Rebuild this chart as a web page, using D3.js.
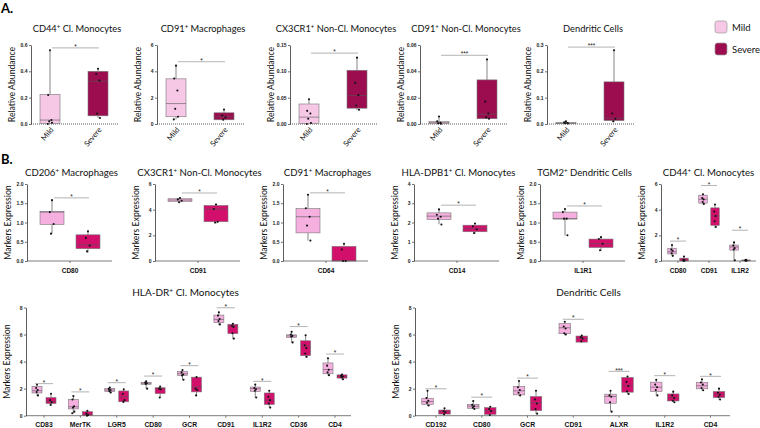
<!DOCTYPE html>
<html><head><meta charset="utf-8">
<script src="https://cdn.jsdelivr.net/npm/d3@7"></script>
<style>body{margin:0;background:#fff}svg{display:block}</style>
</head><body><svg id="c" width="760" height="428"></svg>
<script>
// ---------------- DATA ----------------
const groups = ["Mild", "Severe"];
// Panel A  (box stats = [min, q1, median, q3, max])
const aTitles = ["CD44⁺ Cl. Monocytes", "CD91⁺ Macrophages", "CX3CR1⁺ Non-Cl. Monocytes", "CD91⁺ Non-Cl. Monocytes", "Dendritic Cells"];
const aTicks = [[0, 0.2, 0.4, 0.6], [0, 2, 4, 6], [0, 0.05, 0.10, 0.15], [0, 0.02, 0.04, 0.06], [0, 0.1, 0.2, 0.3]];
const aDecimals = [1, 0, 2, 2, 1];
const aMildBox = [[0, 0.005, 0.03, 0.225, 0.56], [0.35, 0.55, 1.55, 3.43, 4.43], [0, 0.001, 0.013, 0.038, 0.0475], [0, 0.0002, 0.001, 0.0018, 0.0057], [0, 0.001, 0.003, 0.005, 0.01]];
const aSevereBox = [[0.043, 0.062, 0.325, 0.40, 0.42], [0.3, 0.32, 0.55, 0.85, 1.1], [0.026, 0.030, 0.054, 0.102, 0.126], [0.004, 0.004, 0.0075, 0.0335, 0.05], [0.008, 0.013, 0.022, 0.16, 0.283]];
const aMildPts = [[0.56, 0.22, 0.03, 0.02, 0.01, 0.0], [4.43, 3.45, 2.55, 1.15, 0.55, 0.35], [0.047, 0.025, 0.02, 0.01, 0.002, 0.0], [0.0057, 0.002, 0.001, 0.0005, 0.0002], [0.01, 0.006, 0.004, 0.003, 0.002]];
const aSeverePts = [[0.42, 0.38, 0.33, 0.08, 0.045], [1.1, 0.65, 0.5, 0.32], [0.126, 0.078, 0.055, 0.035, 0.027], [0.049, 0.017, 0.008, 0.005, 0.004], [0.28, 0.04, 0.02, 0.01]];
const aSigLevel = [0.578, 4.73, 0.1346, 0.0522, 0.292];
const aStars = ["*", "*", "*", "***", "***"];

// Panel B, row 1
const b1Titles = ["CD206⁺ Macrophages", "CX3CR1⁺ Non-Cl. Monocytes", "CD91⁺ Macrophages", "HLA-DPB1⁺ Cl. Monocytes", "TGM2⁺ Dendritic Cells", "CD44⁺ Cl. Monocytes"];
const b1Markers = [["CD80"], ["CD91"], ["CD64"], ["CD14"], ["IL1R1"], ["CD80", "CD91", "IL1R2"]];
const b1Ticks = [[0, 0.5, 1, 1.5, 2], [0, 2, 4, 6], [0, 0.5, 1, 1.5, 2], [0, 1, 2, 3, 4], [0, 0.5, 1, 1.5, 2], [0, 2, 4, 6]];
const b1Decimals = [1, 0, 1, 0, 1, 0];
const b1MildBox = [[[0.71, 0.95, 1.27, 1.29, 1.58]], [[4.55, 4.65, 4.75, 4.85, 4.9]], [[0.53, 0.73, 1.15, 1.36, 1.72]], [[1.91, 2.16, 2.33, 2.5, 2.67]], [[0.66, 1.09, 1.1, 1.27, 1.35]],
  [[0.37, 0.55, 0.72, 0.97, 1.24], [4.42, 4.51, 4.81, 5.13, 5.2], [0.05, 0.85, 1.09, 1.24, 1.46]]];
const b1SevereBox = [[[0.22, 0.32, 0.42, 0.68, 0.77]], [[2.91, 3.06, 4.05, 4.33, 4.46]], [[0, 0, 0.01, 0.38, 0.45]], [[1.4, 1.52, 1.68, 1.86, 1.96]], [[0.26, 0.35, 0.45, 0.57, 0.62]],
  [[0, 0, 0.08, 0.22, 0.35], [2.58, 2.78, 3.52, 4.14, 4.39], [0, 0.01, 0.04, 0.08, 0.1]]];
const b1MildPts = [[[1.58, 1.27, 0.96, 0.71]], [[4.9, 4.8, 4.7, 4.58]], [[1.72, 1.37, 1.15, 0.92, 0.53]], [[2.68, 2.4, 2.3, 2.2, 1.9]], [[1.35, 1.27, 1.1, 1.1, 0.67]],
  [[1.24, 0.9, 0.8, 0.6, 0.4], [5.2, 4.9, 4.8, 4.6, 4.45], [1.45, 1.2, 1.0, 0.9, 0.05]]];
const b1SeverePts = [[[0.77, 0.6, 0.4, 0.25]], [[4.4, 4.05, 3.05, 3.0]], [[0.45, 0.3, 0.0, 0.0]], [[1.95, 1.8, 1.65, 1.45]], [[0.62, 0.57, 0.45, 0.28]],
  [[0.35, 0.1, 0.05, 0.0], [4.4, 3.85, 3.5, 3.1, 2.65], [0.1, 0.06, 0.03, 0.02]]];
const b1SigLevel = [[1.64], [5.3], [1.77], [2.9], [1.43], [1.55, 5.88, 2.4]];

// Panel B, row 2
const r2Titles = ["HLA-DR⁺ Cl. Monocytes", "Dendritic Cells"];
const r2Ticks = [0, 2, 4, 6, 8];
const hlaMarkers = ["CD83", "MerTK", "LGR5", "CD80", "GCR", "CD91", "IL1R2", "CD36", "CD4"];
const hlaMildBox = [[1.46, 1.68, 1.85, 2.17, 2.31], [0.18, 0.5, 0.66, 1.2, 1.46], [1.7, 1.78, 1.9, 2.02, 2.08], [2.0, 2.32, 2.4, 2.45, 2.55], [2.66, 2.98, 3.1, 3.27, 3.39], [6.71, 6.88, 7.12, 7.44, 7.68], [1.34, 1.8, 2.0, 2.12, 2.32], [5.41, 5.78, 5.9, 5.98, 6.22], [2.98, 3.1, 3.41, 3.9, 4.27]];
const hlaSevereBox = [[0.78, 0.9, 1.05, 1.34, 1.63], [0, 0, 0.1, 0.3, 0.37], [1.0, 1.03, 1.4, 1.83, 1.95], [1.34, 1.63, 2.0, 2.07, 2.17], [1.5, 1.76, 2.12, 2.85, 2.85], [5.66, 6.07, 6.63, 6.76, 6.83], [0.59, 0.83, 1.15, 1.68, 1.88], [4.32, 4.44, 5.17, 5.54, 5.98], [2.66, 2.78, 2.9, 3.02, 3.07]];
const hlaMildPts = [[2.3, 2.05, 1.9, 1.75, 1.5], [1.45, 1.2, 0.7, 0.6, 0.3, 0.18], [2.08, 1.98, 1.9, 1.82, 1.72], [2.55, 2.45, 2.4, 2.35, 2.0], [3.38, 3.2, 3.05, 2.98, 2.66], [7.65, 7.4, 7.15, 7.0, 6.75], [2.3, 2.05, 1.95, 1.85, 1.35], [6.2, 6.0, 5.9, 5.85, 5.42], [4.25, 3.7, 3.4, 3.2, 3.0]];
const hlaSeverePts = [[1.62, 1.15, 1.0, 0.8], [0.36, 0.15, 0.05, 0.0], [1.95, 1.6, 1.15, 1.02], [2.15, 2.0, 1.95, 1.35], [2.85, 2.0, 1.9, 1.5], [6.8, 6.65, 6.55, 6.1, 5.7], [1.85, 1.4, 1.15, 0.9, 0.6], [5.95, 5.2, 5.0, 4.6, 4.35], [3.05, 2.95, 2.9, 2.85, 2.7]];
const hlaSigLevel = [2.37, 1.76, 2.44, 2.93, 3.7, 7.98, 2.54, 6.59, 4.56];
const hlaStars = ["*", "*", "*", "*", "*", "*", "*", "*", "*"];

const dcMarkers = ["CD192", "CD80", "GCR", "CD91", "ALXR", "IL1R2", "CD4"];
const dcMildBox = [[0.72, 0.84, 1.04, 1.29, 1.84], [0.5, 0.55, 0.7, 0.84, 1.09], [1.47, 1.54, 1.84, 2.16, 2.58], [5.94, 6.06, 6.5, 6.81, 6.96], [0.3, 0.92, 1.42, 1.59, 1.86], [1.49, 1.79, 2.11, 2.48, 2.66], [1.86, 1.99, 2.21, 2.46, 2.71]];
const dcSevereBox = [[0.05, 0.12, 0.3, 0.42, 0.55], [0, 0.1, 0.37, 0.6, 0.67], [0.12, 0.37, 0.97, 1.42, 1.86], [5.39, 5.44, 5.71, 5.89, 5.94], [1.59, 1.74, 2.21, 2.83, 2.91], [0.99, 1.09, 1.34, 1.61, 1.79], [1.17, 1.34, 1.59, 1.79, 2.04]];
const dcMildPts = [[1.84, 1.3, 1.1, 0.95, 0.75], [1.08, 0.8, 0.7, 0.6, 0.5], [2.57, 2.1, 1.9, 1.7, 1.5], [6.95, 6.6, 6.45, 6.1, 6.0], [1.85, 1.5, 1.4, 1.0, 0.3], [2.65, 2.3, 2.1, 1.9, 1.5], [2.7, 2.45, 2.3, 2.05, 1.88]];
const dcSeverePts = [[0.55, 0.35, 0.25, 0.1], [0.66, 0.5, 0.35, 0.05], [1.85, 1.2, 0.9, 0.5, 0.15], [5.92, 5.8, 5.7, 5.5], [2.9, 2.5, 2.2, 1.8, 1.6], [1.78, 1.5, 1.3, 1.1, 1.0], [2.0, 1.7, 1.55, 1.4, 1.2]];
const dcSigLevel = [1.99, 1.37, 2.78, 7.13, 3.28, 2.96, 2.91];
const dcStars = ["*", "*", "*", "*", "***", "*", "*"];

// ---------------- STYLE / LAYOUT ----------------
const FONT = "Lato, 'Open Sans', sans-serif";
const TICKF = "'Liberation Sans', Arial, sans-serif";
const colA = { Mild: "#f7c8e6", Severe: "#9c0d4f" };
const colB = { Mild: "#f5b0e0", Severe: "#d2106c" };
const jit = [0, -0.18, 0.14, -0.08, 0.2, -0.22];

const svg = d3.select("#c");

function richText(g, x, y, str, size, anchor) {
  const t = g.append("text").attr("x", x).attr("y", y).attr("text-anchor", anchor || "middle")
    .attr("font-family", FONT).attr("font-size", size).attr("fill", "#111");
  str.split("⁺").forEach((p, i) => {
    if (i > 0) {
      t.append("tspan").attr("dy", -size * 0.35).attr("font-size", size * 0.65).text("+");
      t.append("tspan").attr("dy", size * 0.35).text(p);
    } else t.append("tspan").text(p);
  });
  return t;
}

function yAxis(x, y, ticks, dec, label) {
  const ax = d3.axisLeft(y).tickValues(ticks).tickSize(2).tickSizeOuter(0).tickPadding(1.5)
    .tickFormat(d3.format("." + dec + "f"));
  const a = svg.append("g").attr("transform", `translate(${x},0)`).call(ax);
  a.select(".domain").attr("stroke", "#333").attr("stroke-width", 0.8);
  a.selectAll(".tick line").attr("stroke", "#333").attr("stroke-width", 0.7);
  a.selectAll(".tick text").attr("font-family", TICKF).attr("font-weight", "bold")
    .attr("font-size", 5).attr("fill", "#222");
  const [b, t] = y.range();
  svg.append("text").attr("transform", `translate(${x - 16},${(b + t) / 2}) rotate(-90)`)
    .attr("text-anchor", "middle").attr("font-family", FONT).attr("font-size", 8.7)
    .attr("fill", "#111").text(label);
}

function boxPlot(cx, w, s, y, fill) {
  const [mn, q1, md, q3, mx] = s;
  const g = svg.append("g");
  g.append("line").attr("x1", cx).attr("x2", cx).attr("y1", y(mx)).attr("y2", y(q3)).attr("stroke", "#333").attr("stroke-width", 0.6);
  g.append("line").attr("x1", cx).attr("x2", cx).attr("y1", y(q1)).attr("y2", y(mn)).attr("stroke", "#333").attr("stroke-width", 0.6);
  g.append("rect").attr("x", cx - w / 2).attr("y", y(q3)).attr("width", w).attr("height", Math.max(0.8, y(q1) - y(q3)))
    .attr("fill", fill).attr("stroke", "#777").attr("stroke-width", 0.6);
  g.append("line").attr("x1", cx - w / 2).attr("x2", cx + w / 2).attr("y1", y(md)).attr("y2", y(md)).attr("stroke", "#555").attr("stroke-width", 0.6);
}

function dots(cx, w, pts, y) {
  svg.append("g").selectAll("circle").data(pts).join("circle")
    .attr("cx", (d, i) => cx + jit[i % jit.length] * w * 0.5).attr("cy", d => y(d))
    .attr("r", 1.05).attr("fill", "#111");
}

function sig(x1, x2, yy, star) {
  svg.append("line").attr("x1", x1).attr("x2", x2).attr("y1", yy).attr("y2", yy).attr("stroke", "#aaa").attr("stroke-width", 0.9);
  svg.append("text").attr("x", (x1 + x2) / 2).attr("y", yy + 1.2).attr("text-anchor", "middle")
    .attr("font-family", TICKF).attr("font-size", 6.5).attr("fill", "#222").text(star);
}

// ---------------- PANEL A ----------------
svg.append("text").attr("x", 1).attr("y", 13).attr("font-family", FONT).attr("font-weight", "bold").attr("font-size", 13).text("A.");
const aAxisX = [31, 157, 290, 420, 547];
aTitles.forEach((ttl, i) => {
  const ax = aAxisX[i];
  const y = d3.scaleLinear().domain([0, aTicks[i][aTicks[i].length - 1]]).range([124, 45]);
  const x = d3.scalePoint().domain(groups).range([ax + 19, ax + 67]);
  richText(svg, ax + 46, 32, ttl, 9.3);
  yAxis(ax, y, aTicks[i], aDecimals[i], "Relative Abundance");
  svg.append("line").attr("x1", ax).attr("x2", ax + 87).attr("y1", y(0)).attr("y2", y(0))
    .attr("stroke", "#333").attr("stroke-width", 0.8).attr("stroke-dasharray", "1,1");
  boxPlot(x("Mild"), 20, aMildBox[i], y, colA.Mild);
  boxPlot(x("Severe"), 20, aSevereBox[i], y, colA.Severe);
  dots(x("Mild"), 20, aMildPts[i], y);
  dots(x("Severe"), 20, aSeverePts[i], y);
  sig(x("Mild") + 2, x("Severe") + 1, y(aSigLevel[i]), aStars[i]);
  groups.forEach(gname => {
    svg.append("text").attr("transform", `translate(${x(gname) + 4},${y(0) + 6}) rotate(-50)`)
      .attr("text-anchor", "end").attr("font-family", FONT).attr("font-size", 7.5).attr("fill", "#111").text(gname);
  });
});
// legend
groups.forEach((gname, i) => {
  svg.append("rect").attr("x", 715).attr("y", 21 + i * 22).attr("width", 12).attr("height", 12).attr("rx", 2.5)
    .attr("fill", colA[gname]).attr("stroke", "#999").attr("stroke-width", 0.7);
  svg.append("text").attr("x", 732).attr("y", 30.5 + i * 22).attr("font-family", FONT).attr("font-size", 9.5)
    .attr("fill", "#111").text(gname);
});

// ---------------- PANEL B ROW 1 ----------------
svg.append("text").attr("x", 1).attr("y", 164).attr("font-family", FONT).attr("font-weight", "bold").attr("font-size", 13).text("B.");
const b1AxisX = [27, 155, 283, 414, 540, 661];
b1Titles.forEach((ttl, i) => {
  const ax = b1AxisX[i];
  const y = d3.scaleLinear().domain([0, b1Ticks[i][b1Ticks[i].length - 1]]).range([261, 184]);
  const multi = b1Markers[i].length > 1;
  const end = multi ? 756 : ax + 85;
  const xm = multi ? d3.scalePoint().domain(b1Markers[i]).range([678, 740])
                   : d3.scalePoint().domain(b1Markers[i]).range([ax + 43, ax + 43]);
  const off = multi ? 6 : 18, bw = multi ? 8.5 : 24;
  richText(svg, (ax + end) / 2 + (multi ? 0 : 2), 176, ttl, 9.6);
  yAxis(ax, y, b1Ticks[i], b1Decimals[i], "Markers Expression");
  svg.append("line").attr("x1", ax).attr("x2", end).attr("y1", y(0)).attr("y2", y(0)).attr("stroke", "#444").attr("stroke-width", 0.7);
  b1Markers[i].forEach((m, j) => {
    const c = xm(m);
    svg.append("line").attr("x1", c).attr("x2", c).attr("y1", y(0)).attr("y2", y(0) + 2).attr("stroke", "#444").attr("stroke-width", 0.7);
    svg.append("text").attr("x", c).attr("y", 272.5).attr("text-anchor", "middle").attr("font-family", TICKF)
      .attr("font-weight", "bold").attr("font-size", 6.5).attr("fill", "#111").text(m);
    boxPlot(c - off, bw, b1MildBox[i][j], y, colB.Mild);
    boxPlot(c + off, bw, b1SevereBox[i][j], y, colB.Severe);
    dots(c - off, bw, b1MildPts[i][j], y);
    dots(c + off, bw, b1SeverePts[i][j], y);
    sig(c - off - (multi ? 2 : -2), c + off + (multi ? 2 : 1), y(b1SigLevel[i][j]), "*");
  });
});

// ---------------- PANEL B ROW 2 ----------------
const r2 = [
  { ax: 26, end: 351, r: [44, 335], off: 7, bw: 10, markers: hlaMarkers, mb: hlaMildBox, sb: hlaSevereBox, mp: hlaMildPts, sp: hlaSeverePts, sl: hlaSigLevel, st: hlaStars },
  { ax: 415, end: 730, r: [436, 710.5], off: 8.5, bw: 11.5, markers: dcMarkers, mb: dcMildBox, sb: dcSevereBox, mp: dcMildPts, sp: dcSeverePts, sl: dcSigLevel, st: dcStars }
];
r2.forEach((p, i) => {
  const y = d3.scaleLinear().domain([0, 8]).range([415.7, 307.5]);
  const x = d3.scalePoint().domain(p.markers).range(p.r);
  richText(svg, (p.ax + p.end) / 2 + (i === 0 ? -3 : 16), 296, r2Titles[i], 10);
  yAxis(p.ax, y, r2Ticks, 0, "Markers Expression");
  svg.append("line").attr("x1", p.ax).attr("x2", p.end).attr("y1", y(0)).attr("y2", y(0)).attr("stroke", "#444").attr("stroke-width", 0.7);
  p.markers.forEach((m, j) => {
    const c = x(m);
    svg.append("line").attr("x1", c).attr("x2", c).attr("y1", y(0)).attr("y2", y(0) + 2).attr("stroke", "#444").attr("stroke-width", 0.7);
    svg.append("text").attr("x", c).attr("y", 427).attr("text-anchor", "middle").attr("font-family", TICKF)
      .attr("font-weight", "bold").attr("font-size", 6.8).attr("fill", "#111").text(m);
    boxPlot(c - p.off, p.bw, p.mb[j], y, colB.Mild);
    boxPlot(c + p.off, p.bw, p.sb[j], y, colB.Severe);
    dots(c - p.off, p.bw, p.mp[j], y);
    dots(c + p.off, p.bw, p.sp[j], y);
    sig(c - p.off - 2, c + p.off + 2, y(p.sl[j]), p.st[j]);
  });
});
</script></body></html>
